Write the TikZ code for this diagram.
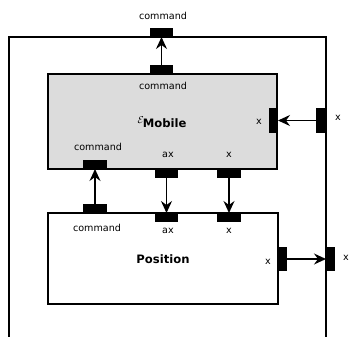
\documentclass[tikz,border=0pt]{standalone}
\usepackage{fontspec}
\setmainfont{DejaVu Sans}
\usetikzlibrary{arrows.meta}
\definecolor{boxgray}{HTML}{DCDCDC}
\tikzset{
  port/.style={draw=none, fill=black, inner sep=0pt, outer sep=0pt},
  hport/.style={port, minimum width=23pt, minimum height=9pt},
  vport/.style={port, minimum width=9pt, minimum height=25pt},
  block/.style={draw=black, line width=1.9pt, inner sep=0pt},
  lbl/.style={inner sep=0pt, font=\fontsize{9.6}{10}\selectfont},
  title/.style={inner sep=0pt, font=\fontsize{11.6}{12}\selectfont\bfseries},
  conn/.style={line width=1.5pt, -{Stealth[length=12pt,width=11pt,inset=4pt]}},
}
\begin{document}
\begin{tikzpicture}[x=1pt,y=-1pt]
\useasboundingbox (0,0) rectangle (349,337);
% outer frame (open at the bottom)
\coordinate (obl) at (9,337);
\coordinate (otl) at (9,37);
\coordinate (otr) at (326,37);
\coordinate (obr) at (326,337);
\draw[line width=1.9pt] (obl) -- (otl) -- (otr) -- (obr);
% blocks
\node[block, fill=boxgray, minimum width=229pt, minimum height=95pt] (mobile) at (162.5,121.5) {};
\node[block, fill=white, minimum width=230pt, minimum height=91pt] (position) at (163,258.5) {};
% ports
\node[hport] (oc) at (161.5,32.5) {};
\node[hport] (mc) at (161.5,69.5) {};
\node[vport] (mx) at (273.5,120.5) {};
\node[vport, minimum width=10pt] (ox) at (321,120.5) {};
\node[hport, minimum width=24pt] (mbc) at (95,164.5) {};
\node[hport] (max) at (166.5,173.5) {};
\node[hport, minimum width=24pt] (mbx) at (229,173.5) {};
\node[hport, minimum width=24pt] (pc) at (95,208.5) {};
\node[hport] (pax) at (166.5,217.5) {};
\node[hport, minimum width=24pt] (px) at (229,217.5) {};
\node[vport, minimum width=10pt, minimum height=24pt] (pxo) at (282,259) {};
\node[vport, minimum height=24pt] (oxo) at (330.5,259) {};
% labels
\node[lbl] (l1) at (163,16) {command};
\node[lbl] (l2) at (163,86) {command};
\node[title] (lm) at (162,122) {\raisebox{4pt}{\fontsize{10}{10}\selectfont\mdseries$\mathcal{E}$}\hspace{-1pt}Mobile};
\node[lbl] (l3) at (259,122) {x};
\node[lbl] (l4) at (338,118) {x};
\node[lbl] (l5) at (98,147) {command};
\node[lbl] (l6) at (168,155) {ax};
\node[lbl] (l7) at (229,155) {x};
\node[lbl] (l8) at (97,228) {command};
\node[lbl] (l9) at (168,231) {ax};
\node[lbl] (l10) at (229,231) {x};
\node[title] (lp) at (163,259) {Position};
\node[lbl] (l11) at (268,262) {x};
\node[lbl] (l12) at (346,258) {x};
% connectors
\draw[conn] (mc.north) -- (oc.south);
\draw[conn] (ox.west) -- (mx.east);
\draw[conn] (pc.north) -- (mbc.south);
\draw[conn] (max.south) -- (pax.north);
\draw[conn] (mbx.south) -- (px.north);
\draw[conn] (pxo.east) -- (oxo.west);
\end{tikzpicture}
\end{document}
